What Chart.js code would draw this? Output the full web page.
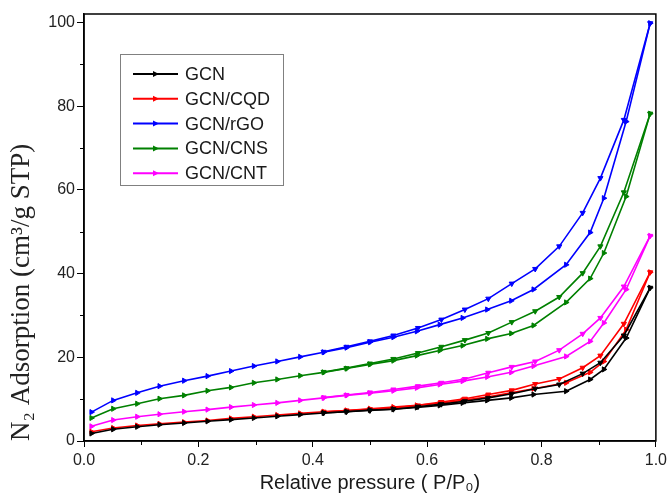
<!DOCTYPE html>
<html>
<head>
<meta charset="utf-8">
<script src="https://cdn.jsdelivr.net/npm/chart.js@4.4.1/dist/chart.umd.min.js"></script>
<style>
html,body{margin:0;padding:0;background:#fff;}
#c{display:block;}
</style>
</head>
<body>
<canvas id="c" width="671" height="495"></canvas>
<script>
// ---- data ----
const seriesNames = ["GCN", "GCN/CQD", "GCN/rGO", "GCN/CNS", "GCN/CNT"];
const pAds = [0.013, 0.051, 0.093, 0.132, 0.175, 0.216, 0.257, 0.297, 0.338, 0.378, 0.419, 0.459, 0.500, 0.541, 0.582, 0.622, 0.662, 0.705, 0.747, 0.786, 0.843, 0.885, 0.909, 0.948, 0.990];
const pDes = [0.990, 0.944, 0.903, 0.872, 0.831, 0.789, 0.748, 0.707, 0.666, 0.625, 0.584, 0.541, 0.500, 0.459, 0.419];

const gcnAds = [1.8, 2.8, 3.4, 3.9, 4.3, 4.7, 5.1, 5.5, 5.9, 6.3, 6.7, 7.0, 7.4, 7.6, 8.0, 8.5, 9.1, 9.7, 10.3, 11.1, 11.9, 14.7, 17.1, 24.6, 36.6];
const gcnDes = [36.6, 25.2, 18.7, 16.1, 13.5, 12.5, 11.3, 10.3, 9.5, 8.8, 8.2, 7.6, 7.3, 7.0, 6.7];

const cqdAds = [2.2, 3.1, 3.7, 4.1, 4.5, 4.9, 5.4, 5.8, 6.2, 6.6, 7.0, 7.3, 7.7, 8.1, 8.5, 9.0, 9.7, 10.5, 11.5, 12.5, 13.9, 16.4, 19.0, 26.6, 40.3];
const cqdDes = [40.3, 28.0, 20.4, 17.5, 14.8, 13.6, 12.1, 11.1, 10.1, 9.3, 8.5, 7.9, 7.6, 7.3, 7.0];

const rgoAds = [6.9, 9.7, 11.5, 13.1, 14.4, 15.5, 16.7, 17.9, 19.0, 20.1, 21.2, 22.3, 23.6, 24.8, 26.2, 27.8, 29.4, 31.4, 33.5, 36.2, 42.1, 49.8, 58.0, 76.3, 99.8];
const rgoDes = [99.8, 76.7, 62.8, 54.5, 46.5, 41.1, 37.6, 34.0, 31.4, 29.0, 27.0, 25.2, 23.8, 22.5, 21.3];

const cnsAds = [5.5, 7.7, 8.9, 10.1, 10.9, 12.0, 12.8, 13.9, 14.7, 15.6, 16.4, 17.3, 18.3, 19.2, 20.4, 21.6, 22.8, 24.4, 25.7, 27.6, 33.1, 38.8, 44.9, 58.4, 78.2];
const cnsDes = [78.2, 59.4, 46.5, 40.1, 34.4, 31.0, 28.4, 25.8, 24.1, 22.5, 21.0, 19.6, 18.5, 17.4, 16.5];

const cntAds = [3.5, 5.0, 5.8, 6.4, 7.0, 7.5, 8.1, 8.6, 9.1, 9.7, 10.3, 10.9, 11.4, 12.0, 12.7, 13.5, 14.3, 15.3, 16.4, 17.9, 20.2, 23.8, 28.2, 36.2, 49.0];
const cntDes = [49.0, 36.9, 29.4, 25.6, 21.7, 19.0, 17.7, 16.3, 14.8, 13.9, 13.1, 12.3, 11.6, 11.0, 10.4];

const xTicks = [0, 0.2, 0.4, 0.6, 0.8, 1.0];
const yTicks = [0, 20, 40, 60, 80, 100];
const xMinor = [0.1, 0.3, 0.5, 0.7, 0.9];
const yMinor = [10, 30, 50, 70, 90];

// ---- styling ----
const colors = ["#000000", "#ff0000", "#0000ff", "#008000", "#ff00ff"];
const adsSets = [gcnAds, cqdAds, rgoAds, cnsAds, cntAds];
const desSets = [gcnDes, cqdDes, rgoDes, cnsDes, cntDes];

const toPts = (xs, ys) => xs.map((x, i) => ({x: x, y: ys[i]}));

const datasets = [];
seriesNames.forEach((name, i) => {
  datasets.push({
    label: name, data: toPts(pAds, adsSets[i]), showLine: true,
    borderColor: colors[i], backgroundColor: colors[i], borderWidth: 1.6,
    pointStyle: 'triangle', rotation: 90, pointRadius: 3, pointBorderWidth: 1,
    tension: 0
  });
  datasets.push({
    label: name + " des", data: toPts(pDes, desSets[i]), showLine: true,
    borderColor: colors[i], backgroundColor: colors[i], borderWidth: 1.6,
    pointStyle: 'triangle', rotation: 180, pointRadius: 3, pointBorderWidth: 1,
    tension: 0
  });
});

const framePlugin = {
  id: 'frame',
  afterDraw(chart) {
    const {ctx, chartArea: a, scales} = chart;
    ctx.save();
    ctx.strokeStyle = '#000';
    ctx.lineWidth = 1.5;
    ctx.strokeRect(a.left, a.top, a.right - a.left, a.bottom - a.top);
    ctx.lineWidth = 1;
    ctx.beginPath();
    xMinor.forEach(v => {
      const px = Math.round(scales.x.getPixelForValue(v)) + 0.5;
      ctx.moveTo(px, a.bottom); ctx.lineTo(px, a.bottom + 4);
    });
    yMinor.forEach(v => {
      const py = Math.round(scales.y.getPixelForValue(v)) + 0.5;
      ctx.moveTo(a.left, py); ctx.lineTo(a.left - 4, py);
    });
    ctx.stroke();
    ctx.restore();
  }
};

const legendPlugin = {
  id: 'boxLegend',
  afterDraw(chart) {
    const ctx = chart.ctx;
    const bx = 120, by = 54, bw = 163, bh = 131;
    ctx.save();
    ctx.fillStyle = '#fff';
    ctx.fillRect(bx, by, bw, bh);
    ctx.strokeStyle = '#808080';
    ctx.lineWidth = 1;
    ctx.strokeRect(bx + 0.5, by + 0.5, bw, bh);
    ctx.font = '18px "Liberation Sans", Arial, sans-serif';
    ctx.textBaseline = 'middle';
    seriesNames.forEach((name, i) => {
      const y = 74 + i * 24.8;
      ctx.strokeStyle = colors[i];
      ctx.fillStyle = colors[i];
      ctx.lineWidth = 2;
      ctx.beginPath();
      ctx.moveTo(133, y); ctx.lineTo(178, y);
      ctx.stroke();
      ctx.beginPath();
      ctx.moveTo(159, y); ctx.lineTo(153, y - 3); ctx.lineTo(153, y + 3);
      ctx.closePath(); ctx.fill();
      ctx.fillStyle = '#1a1a1a';
      ctx.fillText(name, 185, y + 1);
    });
    ctx.restore();
  }
};

new Chart(document.getElementById('c'), {
  type: 'scatter',
  data: {datasets: datasets},
  options: {
    responsive: false,
    animation: false,
    devicePixelRatio: 1,
    layout: {padding: {top: 14, right: 12, left: 2, bottom: 0}},
    plugins: {legend: {display: false}, tooltip: {enabled: false}},
    scales: {
      x: {
        type: 'linear', min: 0, max: 1,
        afterBuildTicks: s => { s.ticks = xTicks.map(v => ({value: v})); },
        afterFit: s => { s.height = 54; },
        ticks: {
          callback: v => Number(v).toFixed(1),
          font: {family: '"Liberation Sans", Arial, sans-serif', size: 16},
          color: '#222', padding: 4, maxRotation: 0
        },
        grid: {drawOnChartArea: false, drawTicks: true, tickLength: 6, color: '#000', tickWidth: 1},
        border: {color: '#000', width: 1.5},
        title: {
          display: true, text: 'Relative pressure ( P/P\u2080)',
          font: {family: '"Liberation Sans", Arial, sans-serif', size: 20},
          color: '#1a1a1a', padding: {top: 0, bottom: 0}
        }
      },
      y: {
        type: 'linear', min: 0, max: 102,
        afterBuildTicks: s => { s.ticks = yTicks.map(v => ({value: v})); },
        afterFit: s => { s.width = 82; },
        ticks: {
          font: {family: '"Liberation Sans", Arial, sans-serif', size: 16},
          color: '#222', padding: 2
        },
        grid: {drawOnChartArea: false, drawTicks: true, tickLength: 7, color: '#000', tickWidth: 1},
        border: {color: '#000', width: 1.5},
        title: {
          display: true, text: 'N\u2082 Adsorption (cm\u00b3/g STP)', align: 'start',
          font: {family: '"Liberation Serif", "Times New Roman", serif', size: 27},
          color: '#222', padding: {top: 4, bottom: 0}
        }
      }
    }
  },
  plugins: [framePlugin, legendPlugin]
});
</script>
</body>
</html>
